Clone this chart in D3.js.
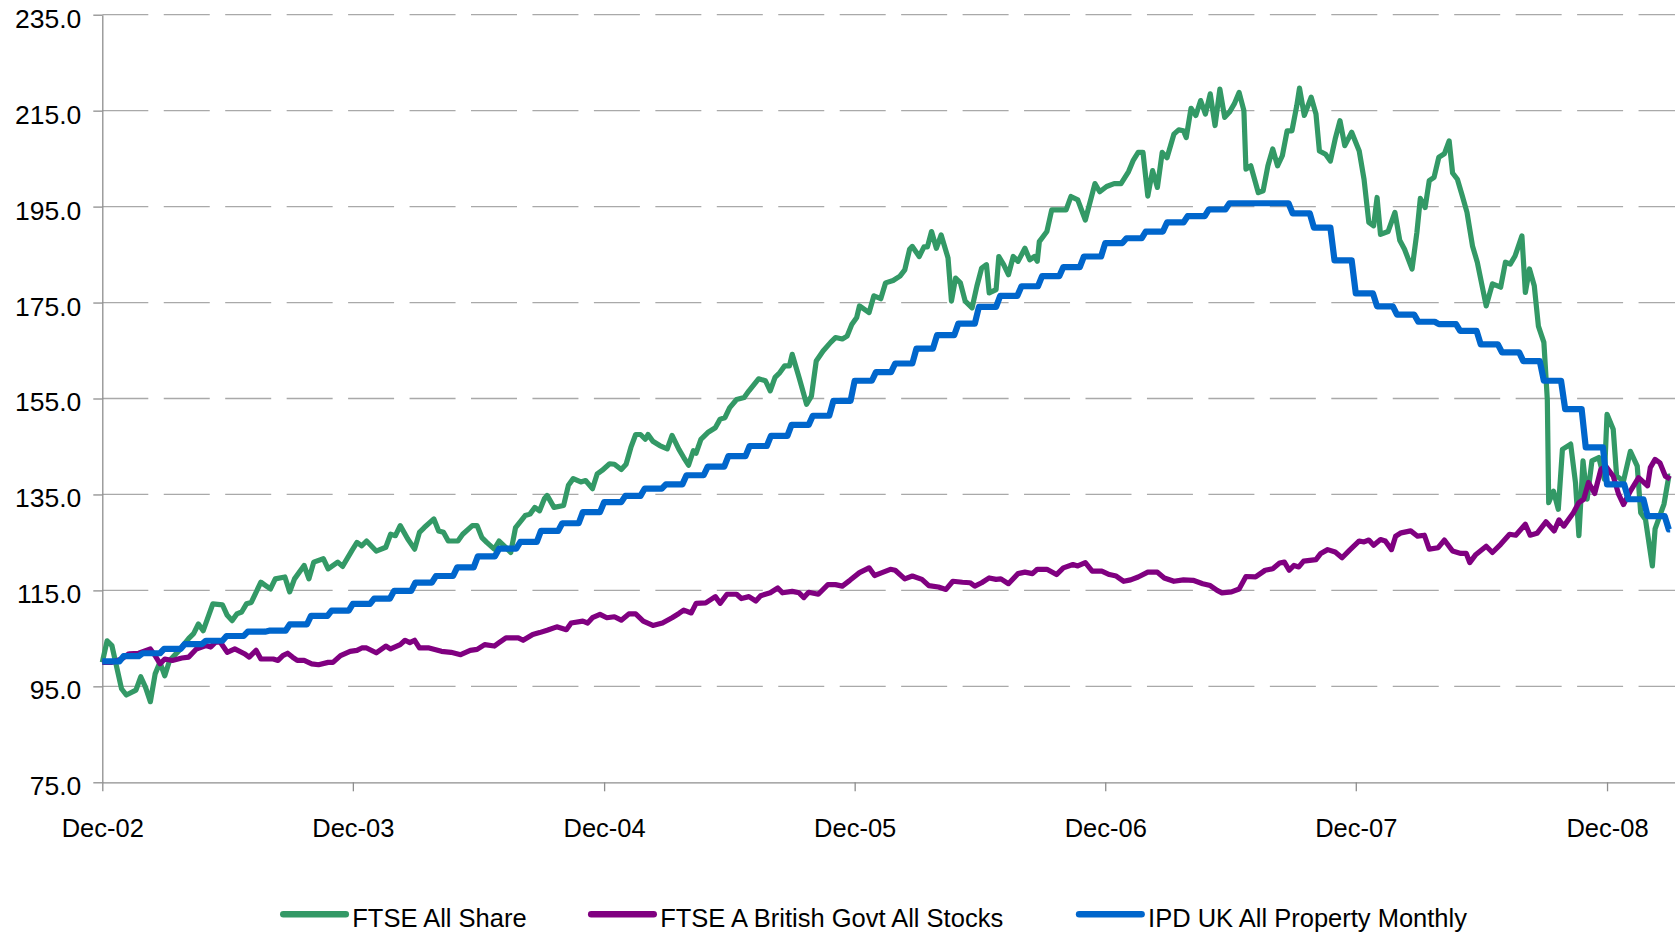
<!DOCTYPE html>
<html>
<head>
<meta charset="utf-8">
<script src="https://cdn.jsdelivr.net/npm/d3@7"></script>
<style>
  body { margin: 0; background: #fff; }
  text { font-family: "Liberation Sans", Arial, sans-serif; fill: #000; }
</style>
</head>
<body>
<div id="chart"></div>
<script>
// weeks since 31 Dec 2002, index value
var ftseAllShare = [
  [0,100],[1,104.5],[2,103.5],[4,94.5],[5,93.2],[7,94.2],[8,97],[9,94.8],[10,91.8],[11,97.6],[12,100],[13,97.2],
  [14,100.4],[16,102.5],[18,105],[19,106],[20,108],[21,106.6],[23,112.2],[25,112],[26,109.8],[27,108.7],[28,110.1],
  [29,110.5],[30,112.2],[31,112.5],[33,116.7],[34,116],[35,115.3],[36,117.4],[38,117.8],[39,114.7],[40,117.4],
  [42,120.2],[43,117.4],[44,120.9],[46,121.6],[47,119.5],[49,120.9],[50,120],[52,123.4],[53,125],[54,124.3],
  [55,125.3],[57,123.2],[59,124],[60,126.7],[61,126.4],[62,128.5],[63.5,125.7],[65,123.6],[66,127.1],[67,128.1],
  [69,129.9],[70,127.4],[71,127.1],[72,125.3],[74,125.3],[75,126.7],[77,128.5],[78,128.5],[79,126],[80,125],
  [81.5,123.6],[82.5,125.3],[84,123.9],[85,122.9],[86,128.1],[88,130.6],[89,130.9],[90,132.3],[91,131.6],
  [92,134.1],[92.5,134.8],[94,132.3],[96,132.7],[97,136.9],[98,138.3],[99.5,137.6],[100.5,137.9],[102,136.2],
  [103,139.3],[104,140],[105.5,141.4],[106.5,141.3],[108,140.2],[109,141.3],[110,144.8],[111,147.5],[112,147.5],
  [113,146.5],[113.5,147.5],[114.5,146.1],[116,145.2],[117.5,144.5],[118.5,147.3],[120,144.4],[121,142.7],
  [122,141.1],[123,144.1],[123.5,143.6],[124.5,146.5],[126,147.9],[127.5,148.9],[128.5,150.7],[129.5,151],
  [130.5,153.1],[132,154.8],[133.5,155.2],[134.5,156.6],[136.5,159.1],[138,158.7],[139,156.6],[140,159.4],
  [141,160.4],[142,161.8],[143,161.8],[143.5,164.2],[145,159.4],[146.5,153.8],[147.5,155.5],[148.5,162.8],
  [150,164.9],[151.5,166.7],[152.5,167.7],[154,167.4],[155,168],[156,170.5],[157,171.9],[157.5,174.3],
  [159.5,172.9],[160.5,176.4],[162,175.8],[163,179.1],[164.5,179.6],[166,180.5],[167,181.8],[168,186.1],
  [168.5,186.7],[170,184.6],[171,186.6],[171.7,186.6],[172.5,189.8],[173.5,186.3],[174.5,189.1],[176,184.3],
  [176.7,175.3],[177.5,180.1],[178.5,179.1],[179.5,175.3],[181,173.9],[182,178.4],[183,182.2],[184,182.9],
  [184.5,177],[186,177.7],[186.5,184.6],[187.5,182.9],[188.5,180.8],[189.5,184.6],[190.5,183.6],[192,186.3],
  [193,183.9],[194,184.6],[194.5,183.6],[195,187.7],[196.5,189.8],[197.5,194.3],[199,194.3],[200.5,194.3],
  [201.5,197.1],[203,196.4],[204.5,192.2],[206.5,199.8],[207.5,198.1],[209,199.2],[210.5,199.8],[212,199.8],
  [213.5,202.3],[214.5,204.7],[215.5,206.3],[216.5,206.3],[217.5,197.2],[218.5,202.5],[219.5,199],[220.5,206.3],
  [221.5,205.2],[223,210.1],[224,211],[225,210.8],[225.5,209.4],[226.5,215.5],[227.5,214],[228.5,217.1],
  [229.5,214.3],[230.5,218.5],[231.5,211.9],[232.5,219.5],[233.5,213.6],[234.5,214.7],[235.5,216.4],
  [236.5,218.8],[237.5,215],[238,202.8],[239,203.5],[240.5,197.9],[241.5,198.3],[242.5,203.5],[243.5,207],
  [244.5,203.5],[245.5,205.6],[246.5,210.8],[247.5,210.8],[248.5,216],[249.2,219.7],[250.2,214],[251.5,217.8],
  [252.5,214.3],[253.3,206.6],[254.5,205.9],[255.5,204.5],[256.5,209.1],[257.5,212.9],[258.5,207.7],[260,210.5],
  [261.5,206.6],[262.5,200.7],[263.5,191.7],[264.5,191],[265.3,196.9],[266,189.2],[267.5,189.8],[269,193.8],
  [270,188],[271,186.1],[272.5,182],[273.5,189.6],[274.3,196.7],[275.3,194.8],[276.2,200.4],[277.2,201.1],
  [278.2,205.3],[279.3,206],[280.3,208.7],[281,202],[282,200.7],[283,197.3],[284,193.8],[285.2,186.8],
  [286.2,183.4],[288,174.3],[289.3,178.9],[291,178.2],[292,183.4],[293,183],[294,184.7],[295.4,188.9],
  [296.2,177.1],[297,182],[298,178.5],[298.8,170.1],[300,166.7],[300.7,154.8],[301,133.3],[302,135.7],
  [303,131.9],[303.8,144.4],[305.5,145.5],[306.6,137.5],[307.3,126.4],[308.2,142],[309,134],[310,142],
  [311.4,142.7],[312.5,138.2],[313.2,151.7],[314.4,148.6],[315.2,138.8],[316.6,137.8],[318,144],[319.4,140.9],
  [320.1,131.2],[321.1,129.8],[322.5,120.1],[323.2,127.8],[325,133],[326,138.8],[326.3,138.8]
];

var ftseGilts = [
  [0,100],[2,100],[4,100.7],[5.5,101.8],[7.5,101.9],[10,102.8],[11,101.4],[12,99.7],[13,100.7],[14.5,100.4],
  [16.5,100.9],[18,101.1],[19.5,102.8],[21.5,103.5],[22.5,103.2],[23.5,104.2],[24.5,104.2],[26,102.1],
  [27.5,102.8],[29.5,101.8],[30.5,101.1],[32,102.5],[33,100.7],[35.5,100.7],[36.5,100.4],[37.5,101.4],
  [38.5,101.9],[39.5,101.1],[40.5,100.4],[42,100.4],[43.5,99.7],[45,99.5],[47,100],[48,100],[49.5,101.4],
  [51.5,102.3],[53,102.5],[54,103],[55,103],[57,102],[59,103.4],[60,102.8],[62,103.7],[63,104.6],[64,104.1],
  [65,104.6],[66,103],[68,103],[70.5,102.3],[72.5,102.1],[74.5,101.6],[76.5,102.5],[78,102.7],[79.5,103.7],
  [81.5,103.4],[82.5,104.1],[84,105.1],[86.5,105.1],[87.5,104.6],[89.5,105.8],[91,106.2],[92.5,106.7],
  [94.5,107.4],[96.5,106.8],[97.5,108.2],[100,108.6],[101,108.2],[102,109.3],[103.5,110],[105,109.3],
  [106.5,109.5],[108,108.8],[109.5,110.1],[111,110.1],[112.5,108.6],[114.5,107.7],[116.5,108.2],[118.5,109.3],
  [120,110.2],[121,110.9],[122.5,110.3],[123.5,112.3],[125.5,112.4],[127.5,113.7],[128.5,112.3],[130,114.2],
  [132,114.2],[133,113.3],[134.5,113.7],[136,112.8],[137,113.9],[139,114.5],[140.5,115.5],[141.5,114.5],
  [143.5,114.8],[145,114.5],[146,113.5],[147,114.6],[149,114.2],[151,116.2],[152.5,116.2],[154,115.9],
  [155.5,117.1],[157.5,118.7],[159.5,119.7],[160.7,118.1],[162,118.6],[164,119.4],[165,119.2],[167,117.4],
  [168.5,118],[170.5,117.3],[172,116],[174,115.7],[175.5,115.2],[177,116.9],[179,116.7],[180.5,116.6],
  [181.5,115.9],[183,116.6],[184.5,117.6],[186,117.3],[187,117.4],[188.5,116.4],[190.5,118.5],[192,118.8],
  [193.5,118.5],[194.5,119.4],[196.5,119.4],[198.5,118.3],[200,119.7],[202,120.4],[203,120.1],[204.5,120.8],
  [206,119],[208,119],[209.5,118.3],[211,118],[212.5,116.9],[214,117.2],[215.5,117.8],[217.5,118.8],
  [219.5,118.8],[221,117.6],[223,116.9],[225,117.2],[227,117.1],[229,116.4],[230.5,116],[232,115],[233,114.5],
  [235,114.7],[236.5,115.3],[238,117.9],[240,117.8],[242,119.2],[243.5,119.5],[245,120.7],[246,120.9],
  [247,119.2],[248,120.2],[249,119.9],[250,121.1],[252.5,121.4],[253.5,122.7],[255,123.5],[256.5,123],
  [258,121.8],[259.5,123.4],[261.5,125.3],[262.5,125.1],[263.5,125.5],[264.5,124.4],[266,125.6],[267,125.3],
  [268.3,123.5],[269.2,126.3],[270.3,127],[272.3,127.4],[273.7,126.3],[275.1,126.5],[276.2,123.6],[278,123.9],
  [279.3,125.5],[281,123.2],[282.7,122.7],[283.8,122.7],[284.5,120.8],[285.8,122.5],[288,124.2],[289.3,122.9],
  [291,124.6],[292.8,126.7],[294.1,126.5],[296.2,128.8],[297.1,126.5],[298.6,126.9],[300.4,129.3],[302.1,127.4],
  [303.1,129.7],[304.2,128.4],[306.2,131.2],[307.3,133.3],[308.3,134],[309.3,137.5],[310.5,135.2],[311.8,140.2],
  [312.8,140.9],[314.4,138.8],[315.6,135],[316.6,132.9],[318,135.7],[319.7,138.5],[321.5,136.8],[322.2,140.6],
  [323.2,142.3],[324.2,141.6],[325.3,138.8],[326.3,138.2]
];

// monthly, Dec 2002 .. Mar 2009
var ipdMonthly = [
  100.2,101.3,101.9,102.8,103.8,104.5,105.5,106.4,106.6,107.9,109.7,110.8,
  112.2,113.3,114.9,116.6,118,119.8,122.1,123.7,125.1,127.4,129,131.3,
  133.4,134.7,136.2,137.1,139,140.8,143,145.1,147.2,149.5,151.4,154.5,
  158.7,160.5,162.3,165.4,168.2,170.6,174.1,176.4,178.4,180.5,182.4,184.6,
  187.4,188.4,189.8,191.7,193,194.4,195.7,195.7,195.7,193.6,190.6,183.8,
  176.9,174.2,172.5,171,170.5,169.1,166.3,164.6,162.8,158.7,152.8,144.8,
  137.1,134,130.5,127.7
];

var yTicks = [75, 95, 115, 135, 155, 175, 195, 215, 235];
var xTickYears = [2002, 2003, 2004, 2005, 2006, 2007, 2008];
var seriesNames = ["FTSE All Share", "FTSE A British Govt All Stocks", "IPD UK All Property Monthly"];
var seriesColors = ["#339966", "#800080", "#0066cc"];

var startDate = new Date(2002, 11, 31);
var endDate = new Date(2009, 3, 9);
var lastDate = new Date(2009, 3, 2);

var svgWidth = 1675, svgHeight = 936;
var margin = { top: 14.7, right: 0, bottom: 153.7, left: 102.3 };
var width = svgWidth - margin.left - margin.right;
var height = svgHeight - margin.top - margin.bottom;

var svg = d3.select("#chart").append("svg")
    .attr("width", svgWidth)
    .attr("height", svgHeight);
var g = svg.append("g")
    .attr("transform", "translate(" + margin.left + "," + margin.top + ")");

var x = d3.scaleTime().domain([startDate, endDate]).range([0, width]);
var y = d3.scaleLinear().domain([75, 235]).range([height, 0]);

function weekDate(w) { return d3.timeDay.offset(startDate, Math.round(w * 7)); }

// gridlines
g.append("g").selectAll("line")
    .data(yTicks.slice(1))
    .enter().append("line")
    .attr("x1", 0).attr("x2", width)
    .attr("y1", d => y(d)).attr("y2", d => y(d))
    .attr("stroke", "#a9a9a9")
    .attr("stroke-width", 1.3)
    .attr("stroke-dasharray", "46,15.45");

// y axis
var yAxis = g.append("g")
    .call(d3.axisLeft(y).tickValues(yTicks).tickSize(9).tickSizeOuter(0).tickPadding(12)
        .tickFormat(d3.format(".1f")));
yAxis.selectAll("text").attr("font-size", 26.5).attr("dy", "0.47em");

// x axis
var xAxis = g.append("g")
    .attr("transform", "translate(0," + height + ")")
    .call(d3.axisBottom(x)
        .tickValues(xTickYears.map(yr => new Date(yr, 11, 31)))
        .tickSize(9).tickSizeOuter(0).tickPadding(27.5)
        .tickFormat(d3.timeFormat("%b-%y")));
xAxis.selectAll("text").attr("font-size", 25.5);

svg.selectAll(".domain, .tick line").attr("stroke", "#8e8e8e").attr("stroke-width", 1.3);

// lines
var line = d3.line()
    .x(d => x(d[0]))
    .y(d => y(d[1]));

var ipdSteps = [];
ipdMonthly.forEach(function(v, k) {
    var d0 = new Date(2003, k, 0);
    var d1 = k < ipdMonthly.length - 1 ? d3.timeDay.offset(new Date(2003, k + 1, 0), -6) : lastDate;
    ipdSteps.push([d0, v], [d1, v]);
});

var seriesData = [
    ftseAllShare.map(d => [weekDate(d[0]), d[1]]),
    ftseGilts.map(d => [weekDate(d[0]), d[1]]),
    ipdSteps
];
var seriesWidths = [5.2, 5.2, 6.2];

seriesData.forEach(function(data, i) {
    g.append("path")
        .datum(data)
        .attr("fill", "none")
        .attr("stroke", seriesColors[i])
        .attr("stroke-width", seriesWidths[i])
        .attr("stroke-linejoin", "round")
        .attr("d", line);
});

// legend
var legendX = [283.3, 591.2, 1079.1];
var legend = svg.append("g");
seriesNames.forEach(function(name, i) {
    legend.append("line")
        .attr("x1", legendX[i]).attr("x2", legendX[i] + 62.5)
        .attr("y1", 914.3).attr("y2", 914.3)
        .attr("stroke", seriesColors[i])
        .attr("stroke-width", 6.5)
        .attr("stroke-linecap", "round");
    legend.append("text")
        .attr("x", legendX[i] + 69)
        .attr("y", 926.7)
        .attr("font-size", 25.5)
        .text(name);
});
</script>
</body>
</html>
